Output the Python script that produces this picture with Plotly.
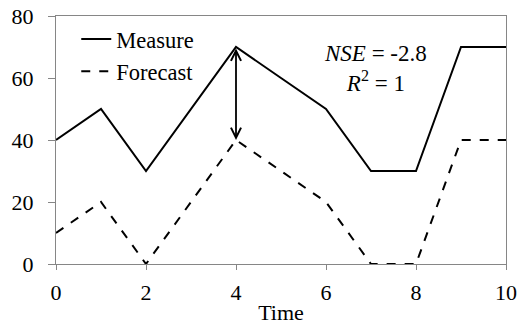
import plotly.graph_objects as go

time = [0, 1, 2, 3, 4, 5, 6, 7, 8, 9, 10]
measure = [40, 50, 30, 50, 70, 60, 50, 30, 30, 70, 70]
forecast = [10, 20, 0, 20, 40, 30, 20, 0, 0, 40, 40]
arrow_x = 4
arrow_top = 70
arrow_bottom = 40
nse_text = "<i>NSE</i> = -2.8<br><i>R</i><sup>2</sup> = 1"

FONT = "Liberation Serif, Times New Roman, serif"
AXC = "#868686"

fig = go.Figure()
fig.add_trace(go.Scatter(x=time, y=measure, mode="lines", name="Measure",
                         line=dict(color="black", width=2), legendgroup="a"))
fig.add_trace(go.Scatter(x=time, y=forecast, mode="lines", name="Forecast",
                         line=dict(color="black", width=2, dash="dash"), legendgroup="b"))

fig.add_annotation(x=arrow_x, y=arrow_bottom, ax=arrow_x, ay=arrow_top,
                   xref="x", yref="y", axref="x", ayref="y",
                   showarrow=True, arrowhead=5, startarrowhead=5, arrowside="end+start",
                   arrowsize=1.1, arrowwidth=1.8, arrowcolor="black", text="")
fig.add_annotation(x=0.709, y=0.788, xref="paper", yref="paper", text=nse_text,
                   showarrow=False, font=dict(size=23, family=FONT, color="black"),
                   align="center", xanchor="center", yanchor="middle")

fig.update_layout(
    width=517, height=325,
    margin=dict(l=56, r=11, t=16, b=61, autoexpand=False),
    paper_bgcolor="white", plot_bgcolor="white",
    font=dict(family=FONT, size=22, color="black"),
    showlegend=True,
    legend=dict(x=0.045, y=0.992, xanchor="left", yanchor="top",
                bgcolor="rgba(0,0,0,0)", tracegroupgap=0,
                font=dict(size=22.5, family=FONT), itemwidth=30),
    xaxis=dict(range=[0, 10], tickvals=[0, 2, 4, 6, 8, 10], showgrid=False,
               zeroline=False, showline=True, linecolor=AXC, linewidth=1, mirror=True,
               ticks="outside", ticklen=5, tickcolor=AXC, automargin=False,
               ticklabelstandoff=4,
               title=dict(text="Time", standoff=5, font=dict(size=22))),
    yaxis=dict(range=[0, 80], tickvals=[0, 20, 40, 60, 80], showgrid=False,
               zeroline=False, showline=True, linecolor=AXC, linewidth=1, mirror=True,
               ticks="outside", ticklen=7, tickcolor=AXC, automargin=False,
               ticklabelstandoff=10),
)

fig.write_html("out.html", config={"displayModeBar": False},
               post_script="document.body.style.margin='0';")
